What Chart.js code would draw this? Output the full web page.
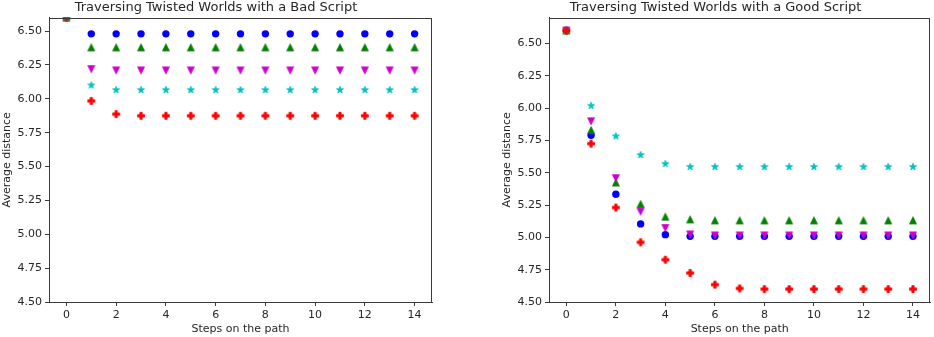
<!DOCTYPE html>
<html>
<head>
<meta charset="utf-8">
<script src="https://cdn.jsdelivr.net/npm/chart.js@4/dist/chart.umd.min.js"></script>
<style>
  html, body { margin: 0; padding: 0; background: #fff; }
  .wrap { position: absolute; top: 0; width: 467px; height: 337px; }
</style>
</head>
<body>
<div class="wrap" style="left:0"><canvas id="bad"></canvas></div>
<div class="wrap" style="left:467px"><canvas id="good"></canvas></div>
<script>
// steps on the path (x values)
const steps = [0, 1, 2, 3, 4, 5, 6, 7, 8, 9, 10, 11, 12, 13, 14];
const xTicks = [0, 2, 4, 6, 8, 10, 12, 14];
const yTicks = [4.5, 4.75, 5.0, 5.25, 5.5, 5.75, 6.0, 6.25, 6.5];

// bad script
const badBlue    = [6.6, 6.48, 6.48, 6.48, 6.48, 6.48, 6.48, 6.48, 6.48, 6.48, 6.48, 6.48, 6.48, 6.48, 6.48];
const badGreen   = [6.6, 6.38, 6.38, 6.38, 6.38, 6.38, 6.38, 6.38, 6.38, 6.38, 6.38, 6.38, 6.38, 6.38, 6.38];
const badMagenta = [6.6, 6.22, 6.21, 6.21, 6.21, 6.21, 6.21, 6.21, 6.21, 6.21, 6.21, 6.21, 6.21, 6.21, 6.21];
const badCyan    = [6.6, 6.10, 6.065, 6.065, 6.065, 6.065, 6.065, 6.065, 6.065, 6.065, 6.065, 6.065, 6.065, 6.065, 6.065];
const badRed     = [6.6, 5.985, 5.887, 5.875, 5.875, 5.875, 5.875, 5.875, 5.875, 5.875, 5.875, 5.875, 5.875, 5.875, 5.875];

// good script
const goodBlue    = [6.6, 5.79, 5.334, 5.104, 5.021, 5.008, 5.008, 5.008, 5.008, 5.008, 5.008, 5.008, 5.008, 5.008, 5.008];
const goodGreen   = [6.6, 5.83, 5.424, 5.258, 5.16, 5.139, 5.131, 5.131, 5.131, 5.131, 5.131, 5.131, 5.131, 5.131, 5.131];
const goodMagenta = [6.6, 5.898, 5.458, 5.199, 5.072, 5.023, 5.015, 5.015, 5.015, 5.015, 5.015, 5.015, 5.015, 5.015, 5.015];
const goodCyan    = [6.6, 6.018, 5.782, 5.637, 5.568, 5.545, 5.545, 5.545, 5.545, 5.545, 5.545, 5.545, 5.545, 5.545, 5.545];
const goodRed     = [6.6, 5.725, 5.231, 4.962, 4.827, 4.724, 4.634, 4.605, 4.6, 4.6, 4.6, 4.6, 4.6, 4.6, 4.6];

const BLUE = '#0000ff', GREEN = '#008000', MAGENTA = '#cc00cc', CYAN = '#00c0c0', RED = '#ff0000';
const TEXT = '#262626', AXIS = '#3a3a3a';
const FONT = "'DejaVu Sans', sans-serif";

// small canvas markers like matplotlib's ^ v * P
function marker(kind, color) {
    const c = document.createElement('canvas');
    c.width = 10; c.height = 10;
    const g = c.getContext('2d');
    g.translate(5, 5);
    g.fillStyle = color;
    g.strokeStyle = color;
    g.lineWidth = 0.8;
    g.beginPath();
    if (kind === 'up') {
        g.moveTo(0, -3.5); g.lineTo(3.5, 3.5); g.lineTo(-3.5, 3.5);
    } else if (kind === 'down') {
        g.moveTo(0, 3.5); g.lineTo(3.5, -3.5); g.lineTo(-3.5, -3.5);
    } else if (kind === 'star') {
        for (let i = 0; i < 10; i++) {
            const r = i % 2 === 0 ? 3.7 : 1.5;
            const a = Math.PI * i / 5;
            g.lineTo(Math.sin(a) * r, -Math.cos(a) * r);
        }
    } else if (kind === 'plus') {
        const pts = [[-1,-3],[1,-3],[1,-1],[3,-1],[3,1],[1,1],[1,3],[-1,3],[-1,1],[-3,1],[-3,-1],[-1,-1]];
        pts.forEach(p => g.lineTo(p[0] * 3.5 / 3, p[1] * 3.5 / 3));
    }
    g.closePath();
    g.fill();
    g.stroke();
    return c;
}

// order: higher is drawn first, so red (order 0) ends up on top like matplotlib
function series(values, color, style, order) {
    return {
        data: steps.map((s, i) => ({ x: s, y: values[i] })),
        backgroundColor: color,
        borderColor: color,
        pointStyle: style,
        pointRadius: 3.7,
        pointHoverRadius: 3.7,
        borderWidth: 0,
        showLine: false,
        clip: 0,
        order: order
    };
}

const frame = {
    id: 'frame',
    afterDraw(chart) {
        const a = chart.chartArea, ctx = chart.ctx;
        ctx.save();
        ctx.strokeStyle = AXIS;
        ctx.lineWidth = 1;
        ctx.strokeRect(Math.round(a.left) + 0.5, Math.round(a.top) + 0.5,
            Math.round(a.right - a.left) - 1, Math.round(a.bottom - a.top));
        ctx.restore();
    }
};

function makeChart(id, title, data, yMax, padLeft, padRight) {
    const datasets = [
        series(data[0], BLUE, 'circle', 4),
        series(data[1], GREEN, marker('up', GREEN), 3),
        series(data[2], MAGENTA, marker('down', MAGENTA), 2),
        series(data[3], CYAN, marker('star', CYAN), 1),
        series(data[4], RED, marker('plus', RED), 0)
    ];
    return new Chart(document.getElementById(id), {
        type: 'scatter',
        data: { datasets: datasets },
        plugins: [frame],
        options: {
            responsive: true,
            maintainAspectRatio: false,
            animation: false,
            layout: { padding: { left: padLeft, right: padRight, top: 0, bottom: 0 } },
            plugins: {
                legend: { display: false },
                tooltip: { enabled: false },
                title: {
                    display: true,
                    text: title,
                    color: TEXT,
                    font: { family: FONT, size: 13, weight: 'normal', lineHeight: 1.2 },
                    padding: { top: 0, bottom: 2 }
                }
            },
            scales: {
                x: {
                    type: 'linear',
                    min: -0.7,
                    max: 14.7,
                    afterBuildTicks: s => { s.ticks = xTicks.map(v => ({ value: v })); },
                    afterFit: s => { s.height = 35; },
                    grid: { drawOnChartArea: false, drawTicks: true, tickLength: 4, color: AXIS },
                    border: { color: AXIS },
                    ticks: { color: TEXT, padding: 3, maxRotation: 0, font: { family: FONT, size: 11 } },
                    title: {
                        display: true,
                        text: 'Steps on the path',
                        color: TEXT,
                        font: { family: FONT, size: 11 },
                        padding: { top: 1, bottom: 1 }
                    }
                },
                y: {
                    type: 'linear',
                    min: 4.5,
                    max: yMax,
                    afterBuildTicks: s => { s.ticks = yTicks.map(v => ({ value: v })); },
                    afterFit: s => { s.width = 49; },
                    grid: { drawOnChartArea: false, drawTicks: true, tickLength: 4, color: AXIS },
                    border: { color: AXIS },
                    ticks: {
                        color: TEXT,
                        padding: 3,
                        font: { family: FONT, size: 11 },
                        callback: v => Number(v).toFixed(2)
                    },
                    title: {
                        display: true,
                        text: 'Average distance',
                        color: TEXT,
                        font: { family: FONT, size: 11 },
                        padding: { top: 1, bottom: 1 }
                    }
                }
            }
        }
    });
}

makeChart('bad', 'Traversing Twisted Worlds with a Bad Script',
    [badBlue, badGreen, badMagenta, badCyan, badRed], 6.6, 0, 35);
makeChart('good', 'Traversing Twisted Worlds with a Good Script',
    [goodBlue, goodGreen, goodMagenta, goodCyan, goodRed], 6.7, 33, 3);
</script>
</body>
</html>
